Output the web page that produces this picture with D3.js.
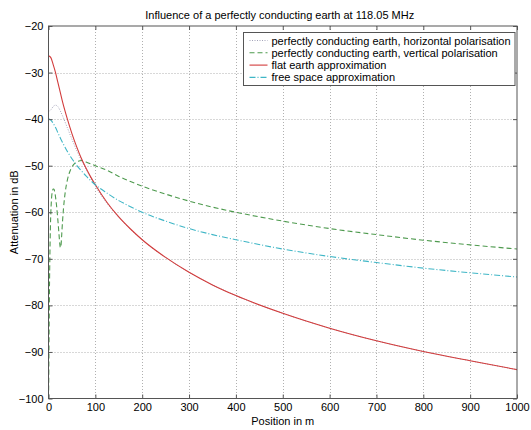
<!DOCTYPE html>
<html>
<head>
<meta charset="utf-8">
<script src="https://cdn.jsdelivr.net/npm/d3@7"></script>
<style>
  body { margin: 0; background: #fff; }
  svg { font-family: "Liberation Sans", Arial, Helvetica, sans-serif; }
</style>
</head>
<body>
<div id="chart"></div>
<script>
const WIDTH = 531;
const HEIGHT = 430;
const plot = { left: 48.5, right: 517, top: 26, bottom: 398.5 };

const xTicks = [0, 100, 200, 300, 400, 500, 600, 700, 800, 900, 1000];
const yTicks = [-100, -90, -80, -70, -60, -50, -40, -30, -20];

// perfectly conducting earth, horizontal polarisation
const horizPos = [0, 5, 10, 15, 20, 25, 30, 40, 50, 60, 70, 80, 90, 100, 150, 200, 300, 400, 500, 600, 700, 800, 900, 1000];
const horizDb = [-38.4, -38.0, -37.3, -37.0, -37.3, -38.2, -39.3, -41.8, -44.3, -46.7, -48.8, -50.8, -52.6, -54.4,
  -61.1, -65.9, -72.9, -77.9, -81.7, -84.9, -87.6, -89.9, -91.9, -93.8];

// perfectly conducting earth, vertical polarisation
const vertPos = [0, 0.5, 1, 1.5, 2, 3, 4, 5, 6, 7, 8, 9, 10, 11, 12, 13, 14, 15, 16, 17, 18, 19, 20, 21, 22, 23, 24,
  25, 26, 27, 28, 29, 30, 32, 34, 36, 38, 40, 45, 50, 55, 60, 65, 70, 75, 80, 90, 100, 125, 150, 175, 200, 250,
  300, 350, 400, 500, 600, 700, 800, 900, 1000];
const vertDb = [-100, -96, -89, -83, -77, -69, -63.5, -60, -57.8, -56.4, -55.6, -55.2, -55.0, -55.0, -55.1, -55.5,
  -56.0, -56.7, -57.5, -58.4, -59.4, -60.5, -61.7, -62.9, -64.2, -65.5, -66.7, -67.5, -67.6, -66.8, -65.2, -63.5,
  -61.9, -59.2, -57.1, -55.5, -54.2, -53.2, -51.4, -50.3, -49.6, -49.2, -49.0, -48.9, -49.0, -49.2, -49.6, -50.0,
  -51.0, -52.3, -53.4, -54.4, -56.1, -57.6, -58.9, -60.0, -61.9, -63.5, -64.8, -66.0, -67.0, -67.9];

// flat earth approximation
const flatPos = [0, 5, 10, 15, 20, 25, 30, 40, 50, 60, 70, 80, 90, 100, 125, 150, 175, 200, 250, 300, 350, 400,
  500, 600, 700, 800, 900, 1000];
const flatDb = [-26.4, -26.8, -28.3, -30.0, -32.1, -34.2, -36.3, -39.9, -43.1, -45.9, -48.4, -50.5, -52.4, -54.1,
  -57.9, -61.0, -63.6, -65.9, -69.7, -72.9, -75.6, -77.9, -81.7, -84.9, -87.6, -89.9, -91.9, -93.8];

// free space approximation
const freePos = flatPos;
const freeDb = [-39.9, -40.2, -40.9, -41.8, -42.9, -44.0, -45.0, -46.9, -48.5, -49.9, -51.1, -52.2, -53.2, -54.1,
  -55.9, -57.5, -58.8, -60.0, -61.9, -63.5, -64.8, -65.9, -67.9, -69.5, -70.8, -72.0, -73.0, -73.9];

const seriesNames = [
  'perfectly conducting earth, horizontal polarisation',
  'perfectly conducting earth, vertical polarisation',
  'flat earth approximation',
  'free space approximation',
];

const series = [
  { name: seriesNames[0], pos: horizPos, db: horizDb, color: '#a2a2b8', dash: '1,1.5', width: 1 },
  { name: seriesNames[1], pos: vertPos, db: vertDb, color: '#4e9a4e', dash: '5,3', width: 1.1 },
  { name: seriesNames[2], pos: flatPos, db: flatDb, color: '#d23c3c', dash: null, width: 1.1 },
  { name: seriesNames[3], pos: freePos, db: freeDb, color: '#3fb6c6', dash: '6,2,1,2', width: 1.1 },
];

const svg = d3.select('#chart').append('svg')
  .attr('width', WIDTH)
  .attr('height', HEIGHT);

const x = d3.scaleLinear().domain([0, 1000]).range([plot.left, plot.right]);
const y = d3.scaleLinear().domain([-100, -20]).range([plot.bottom, plot.top]);

// grid
const grid = svg.append('g').attr('class', 'grid')
  .attr('stroke', '#b0b0b0')
  .attr('stroke-dasharray', '1,2');
grid.selectAll('line.vx')
  .data(xTicks.slice(1, -1))
  .enter().append('line')
  .attr('x1', d => Math.round(x(d)) + 0.5).attr('x2', d => Math.round(x(d)) + 0.5)
  .attr('y1', plot.top).attr('y2', plot.bottom);
grid.selectAll('line.hy')
  .data(yTicks.slice(1, -1))
  .enter().append('line')
  .attr('y1', d => Math.round(y(d)) + 0.5).attr('y2', d => Math.round(y(d)) + 0.5)
  .attr('x1', plot.left).attr('x2', plot.right);

// curves
svg.append('clipPath').attr('id', 'clip')
  .append('rect')
  .attr('x', plot.left).attr('y', plot.top)
  .attr('width', plot.right - plot.left).attr('height', plot.bottom - plot.top);

const line = d3.line()
  .x(d => x(d[0]))
  .y(d => y(d[1]))
  .curve(d3.curveMonotoneX);

svg.append('g').attr('clip-path', 'url(#clip)')
  .selectAll('path')
  .data(series)
  .enter().append('path')
  .attr('fill', 'none')
  .attr('stroke', d => d.color)
  .attr('stroke-width', d => d.width)
  .attr('stroke-dasharray', d => d.dash)
  .attr('d', d => line(d.pos.map((p, i) => [p, d.db[i]])));

// axes, ticks pointing inward
const axisColor = '#555';
const styleAxis = g => {
  g.select('.domain').remove();
  g.selectAll('.tick line').attr('stroke', axisColor);
  g.selectAll('.tick text').attr('fill', '#000').style('font-size', '11px');
};

svg.append('g')
  .attr('transform', `translate(0,${plot.bottom})`)
  .call(d3.axisBottom(x).tickValues(xTicks).tickFormat(d3.format('d'))
    .tickSizeInner(-4).tickSizeOuter(0).tickPadding(5))
  .call(styleAxis);
svg.append('g')
  .attr('transform', `translate(0,${plot.top})`)
  .call(d3.axisTop(x).tickValues(xTicks).tickSizeInner(-4).tickSizeOuter(0).tickFormat(''))
  .call(styleAxis);
svg.append('g')
  .attr('transform', `translate(${plot.left},0)`)
  .call(d3.axisLeft(y).tickValues(yTicks).tickSizeInner(-4).tickSizeOuter(0).tickPadding(5))
  .call(styleAxis);
svg.append('g')
  .attr('transform', `translate(${plot.right},0)`)
  .call(d3.axisRight(y).tickValues(yTicks).tickSizeInner(-4).tickSizeOuter(0).tickFormat(''))
  .call(styleAxis);

svg.append('rect')
  .attr('x', plot.left).attr('y', plot.top)
  .attr('width', plot.right - plot.left).attr('height', plot.bottom - plot.top)
  .attr('fill', 'none')
  .attr('stroke', axisColor);

// titles
svg.append('text')
  .attr('x', (plot.left + plot.right) / 2 - 3)
  .attr('y', 19)
  .attr('text-anchor', 'middle')
  .style('font-size', '11px')
  .text('Influence of a perfectly conducting earth at 118.05 MHz');

svg.append('text')
  .attr('x', (plot.left + plot.right) / 2)
  .attr('y', 425)
  .attr('text-anchor', 'middle')
  .style('font-size', '11px')
  .text('Position in m');

svg.append('text')
  .attr('transform', `translate(18,${(plot.top + plot.bottom) / 2}) rotate(-90)`)
  .attr('text-anchor', 'middle')
  .style('font-size', '11px')
  .text('Attenuation in dB');

// legend
const legend = svg.append('g').attr('transform', 'translate(243.5,32.5)');
legend.append('rect')
  .attr('width', 271.5).attr('height', 53)
  .attr('fill', '#fff')
  .attr('stroke', axisColor);
const rows = legend.selectAll('g.row')
  .data(series)
  .enter().append('g')
  .attr('transform', (d, i) => `translate(0,${8 + i * 12.3})`);
rows.append('line')
  .attr('x1', 6).attr('x2', 24)
  .attr('y1', 0).attr('y2', 0)
  .attr('stroke', d => d.color)
  .attr('stroke-width', d => d.width)
  .attr('stroke-dasharray', d => d.dash);
rows.append('text')
  .attr('x', 28)
  .attr('y', 4)
  .style('font-size', '11px')
  .text(d => d.name);
</script>
</body>
</html>
